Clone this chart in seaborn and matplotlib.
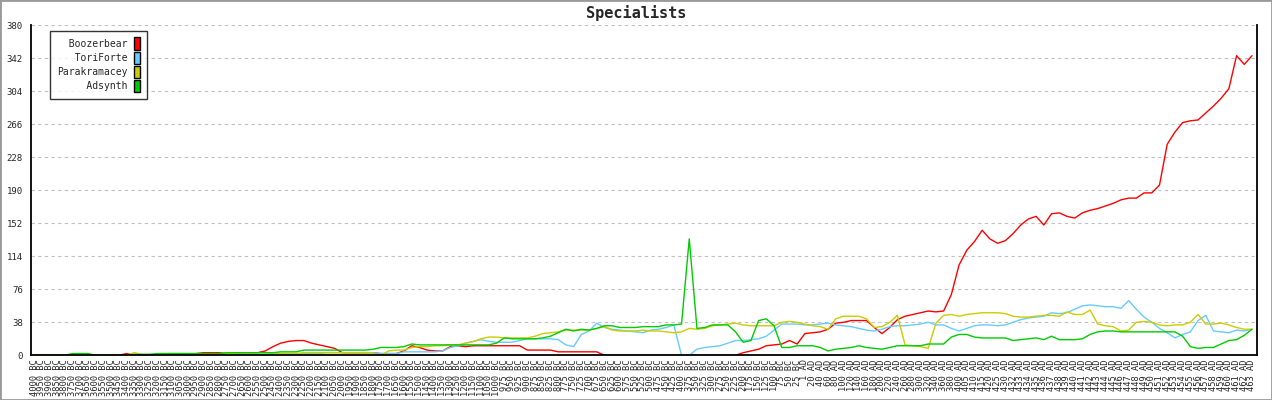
import matplotlib
matplotlib.use("Agg")
import matplotlib.pyplot as plt
from matplotlib.patches import Patch, Rectangle
import pandas as pd
import seaborn as sns

players = ["Boozerbear", "ToriForte", "Parakramacey", "Adsynth"]
colors = ["#ff0000", "#66ccff", "#cccc00", "#00cc00"]

bc_years = [4000, 3950, 3900, 3850, 3800, 3750, 3700, 3650, 3600, 3550, 3500, 3450,
            3400, 3350, 3300, 3250, 3200, 3150, 3100, 3050, 3000, 2950, 2900, 2850,
            2800, 2750, 2700, 2650, 2600, 2550, 2500, 2450, 2400, 2350, 2300, 2250,
            2200, 2150, 2100, 2050, 2000, 1950, 1900, 1850, 1800, 1750, 1700, 1650,
            1600, 1550, 1500, 1450, 1400, 1350, 1300, 1250, 1200, 1150, 1100, 1050,
            1000, 975, 950, 925, 900, 875, 850, 825, 800, 775, 750, 725, 700, 675,
            650, 625, 600, 575, 550, 525, 500, 475, 450, 425, 400, 375, 350, 325,
            300, 275, 250, 225, 200, 175, 150, 125, 100, 75, 50, 25]
ad_years = [1, 20, 40, 60, 80, 100, 120, 140, 160, 180, 200, 220, 240, 260, 280,
            300, 320, 340, 360, 380, 400, 405, 410, 415, 420, 425, 430, 432, 433,
            434, 435, 436, 437, 438, 439, 440, 441, 442, 443, 444, 445, 446, 447,
            448, 449, 450, 451, 452, 453, 454, 455, 456, 457, 458, 459, 460, 461,
            462, 463]
turn_labels = [f"{y} BC" for y in bc_years] + [f"{y} AD" for y in ad_years]

boozerbear = [
    0, 0, 0, 0, 0, 0, 0, 0, 0, 0, 0, 0, 2, 0, 0, 0, 0, 0, 0, 0,
    0, 2, 3, 3, 3, 2, 2, 3, 3, 3, 5, 10, 14, 16, 17, 17, 14, 12, 10, 8,
    3, 3, 3, 3, 3, 2, 2, 2, 5, 11, 9, 6, 5, 5, 10, 11, 10, 11, 11, 11,
    11, 11, 11, 11, 6, 6, 6, 6, 4, 4, 4, 4, 4, 4, 0, 0, 0, 0, 0, 0,
    0, 0, 0, 0, 0, 0, 0, 0, 0, 0, 0, 0, 3, 5, 7, 11, 12, 13, 17, 13,
    25, 26, 27, 30, 37, 38, 40, 40, 40, 32, 25, 32, 41, 45, 47, 49, 51, 50, 51, 70,
    104, 121, 131, 144, 134, 129, 132, 140, 150, 157, 160, 150, 163, 164, 160, 158,
    164, 167, 169, 172, 175, 179, 181, 181, 187, 187, 196, 243, 257, 268,
    270, 271, 279, 287, 296, 307, 345, 335, 345,
]
toriforte = [
    0, 0, 0, 0, 0, 0, 0, 0, 0, 0, 0, 0, 0, 1, 1, 1, 1, 1, 1, 1,
    1, 1, 1, 1, 1, 1, 1, 1, 1, 1, 1, 2, 2, 2, 2, 2, 2, 2, 3, 3,
    3, 3, 3, 3, 3, 2, 2, 2, 4, 4, 4, 4, 4, 5, 9, 11, 14, 16, 18, 16,
    15, 15, 15, 17, 19, 19, 19, 19, 18, 12, 10, 24, 28, 37, 32, 30, 29, 28, 27, 26,
    29, 30, 32, 35, 0, 0, 7, 9, 10, 11, 14, 17, 17, 18, 19, 22, 29, 36, 36, 36,
    35, 35, 36, 37, 35, 34, 33, 31, 29, 28, 30, 33, 34, 34, 35, 36, 38, 35, 35, 31,
    28, 31, 34, 35, 35, 34, 35, 38, 41, 43, 44, 45, 49, 48, 49, 53, 57, 58, 57, 56,
    56, 54, 63, 53, 44, 38, 31, 26, 20, 24, 27, 40, 46, 28, 27, 26, 29, 28, 30,
]
parakramacey = [
    0, 0, 0, 0, 0, 1, 1, 1, 0, 0, 0, 0, 0, 3, 1, 1, 1, 2, 2, 2,
    2, 0, 1, 1, 1, 2, 2, 3, 3, 3, 3, 3, 2, 2, 2, 3, 3, 3, 3, 3,
    3, 3, 3, 3, 2, 0, 5, 6, 6, 9, 10, 10, 11, 11, 12, 12, 14, 16, 19, 21,
    21, 20, 20, 20, 20, 22, 25, 26, 27, 29, 29, 29, 29, 31, 33, 29, 28, 28, 28, 29,
    28, 28, 27, 26, 27, 31, 30, 31, 34, 35, 36, 37, 35, 34, 34, 34, 34, 38, 39, 38,
    36, 34, 33, 30, 42, 45, 45, 45, 42, 32, 33, 38, 46, 12, 11, 10, 8, 37, 46, 47,
    45, 47, 48, 49, 49, 49, 48, 45, 44, 44, 45, 46, 46, 45, 50, 47, 47, 52, 36, 34,
    33, 28, 29, 38, 39, 38, 35, 34, 35, 35, 38, 47, 36, 36, 37, 35, 32, 30, 30,
]
adsynth = [
    0, 0, 0, 0, 0, 2, 2, 2, 0, 0, 0, 0, 0, 1, 1, 1, 2, 2, 2, 2,
    2, 2, 2, 2, 2, 3, 3, 3, 3, 3, 3, 3, 4, 4, 4, 6, 6, 6, 6, 6,
    6, 6, 6, 6, 7, 9, 9, 9, 10, 13, 12, 12, 12, 12, 12, 12, 12, 12, 12, 12,
    14, 20, 19, 19, 19, 19, 20, 22, 26, 30, 28, 30, 29, 31, 34, 34, 32, 32, 32, 33,
    33, 33, 35, 35, 36, 134, 31, 32, 35, 35, 35, 27, 15, 17, 40, 42, 34, 9, 9, 11,
    11, 11, 9, 5, 7, 8, 9, 11, 9, 8, 7, 9, 11, 11, 11, 11, 13, 13, 13, 21,
    24, 24, 21, 20, 20, 20, 20, 17, 18, 19, 20, 18, 22, 18, 18, 18, 19, 24, 27, 28,
    28, 27, 27, 27, 27, 27, 27, 27, 27, 22, 10, 8, 9, 9, 13, 17, 18, 23, 30,
]

y_ticks = [0, 38, 76, 114, 152, 190, 228, 266, 304, 342, 380]

series = {"Boozerbear": boozerbear, "ToriForte": toriforte,
          "Parakramacey": parakramacey, "Adsynth": adsynth}
frames = []
for name, values in series.items():
    frames.append(pd.DataFrame({"turn": range(len(turn_labels)), "score": values,
                                "player": name}))
df = pd.concat(frames, ignore_index=True)

sns.set_style("white")
plt.rcParams["font.family"] = ["DejaVu Sans Mono"]

fig = plt.figure(figsize=(12.72, 4.0), dpi=100)
ax = fig.add_axes([31 / 1272, (400 - 355.3) / 400, 1226 / 1272, 330 / 400])

sns.lineplot(data=df, x="turn", y="score", hue="player", hue_order=players,
             palette=dict(zip(players, colors)), linewidth=1.0, sort=False,
             legend=False, ax=ax)

ax.set_xlim(-0.39, len(turn_labels) - 1 + 0.65)
ax.set_ylim(0, 380)
ax.set_xticks(range(len(turn_labels)))
ax.set_xticklabels(turn_labels, rotation=90, fontsize=6.3)
ax.set_yticks(y_ticks)
ax.set_yticklabels([str(v) for v in y_ticks], fontsize=6.5)
ax.tick_params(axis="x", length=0, pad=3)
ax.tick_params(axis="y", direction="inout", length=6, width=1, pad=3)
ax.set_xlabel("")
ax.set_ylabel("")

for v in y_ticks[1:]:
    ax.axhline(v, color="#c0c0c0", linewidth=0.8, linestyle=(0, (3, 3)), zorder=0)

for side in ["left", "bottom", "right"]:
    ax.spines[side].set_color("black")
    ax.spines[side].set_linewidth(1.3)
ax.spines["top"].set_visible(False)

handles = [Patch(facecolor=c, edgecolor="black", linewidth=1) for c in colors]
width = max(len(p) for p in players)
labels = [p.rjust(width) for p in players]
leg = ax.legend(handles, labels, loc="upper left", bbox_to_anchor=(0.0155, 0.984),
                borderaxespad=0, markerfirst=False, fancybox=False, frameon=True,
                fontsize=7, handlelength=0.62, handleheight=1.55, handletextpad=0.7,
                labelspacing=0.2, borderpad=0.7)
leg.get_frame().set_edgecolor("black")
leg.get_frame().set_linewidth(1.0)

fig.text(0.5, 1 - 13 / 400, "Specialists", ha="center", va="center",
         fontsize=11, fontweight="bold")

fig.patches.append(Rectangle((0, 0), 1, 1, transform=fig.transFigure, fill=False,
                             edgecolor="#999999", linewidth=2))

fig.savefig("out.png", dpi=100)
